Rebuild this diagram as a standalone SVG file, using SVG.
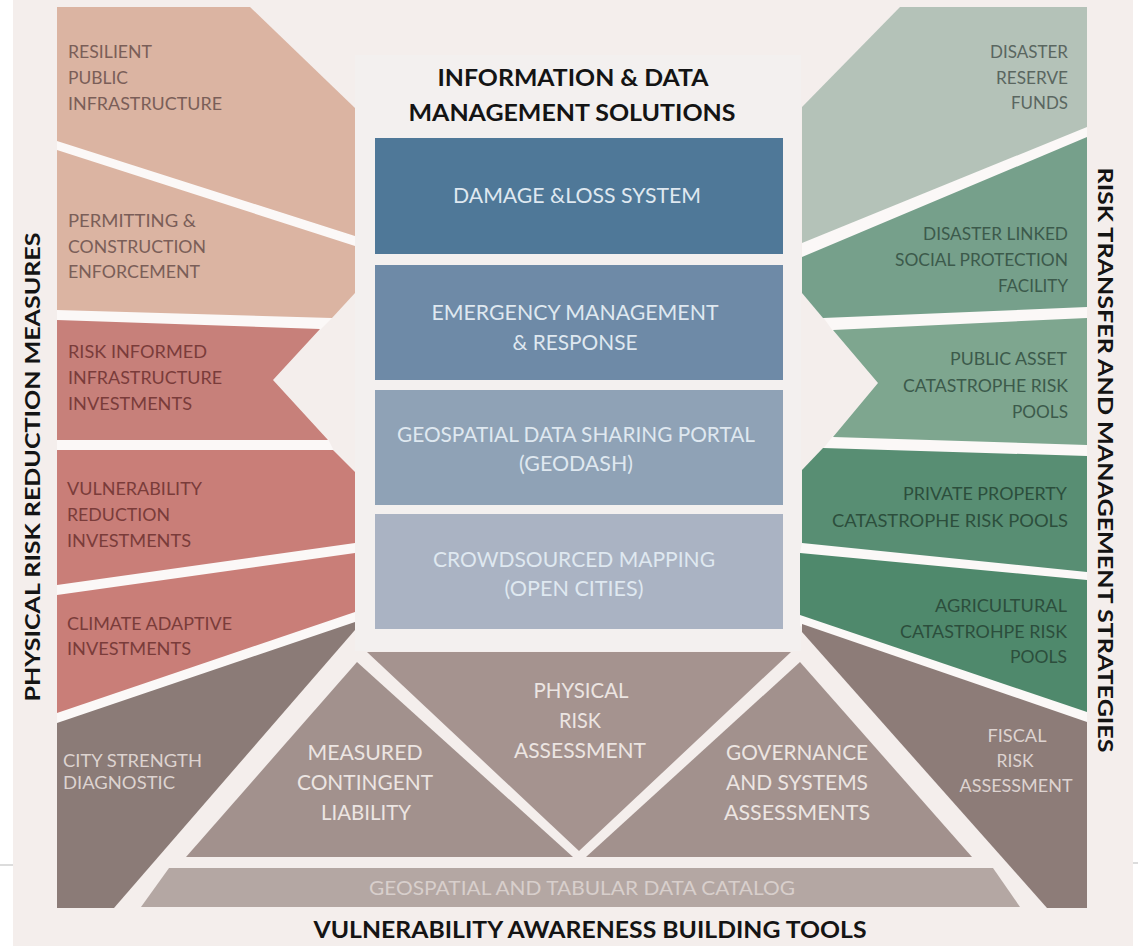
<svg xmlns="http://www.w3.org/2000/svg" width="1138" height="946" viewBox="0 0 1138 946">
<style>
text{font-family:Lato,"Open Sans","Liberation Sans",sans-serif}
.h{font-weight:700;font-size:23px;fill:#141414}
.v{font-weight:700;font-size:21px;fill:#141414}
.lp{font-size:18px}
.tan{fill:#7a5e58}
.red{fill:#7a3c3a}
.lt{fill:#ddd3d0}
.dr{fill:#5a6660}
.gr{fill:#3c5a4b}
.dg{fill:#2c4e3c}
.bx{font-size:21px;fill:#dfe8f0}
.tr{font-size:21px;fill:#ece5e2}
.gap{fill:#fbf8f7}
</style>
<rect width="1138" height="946" fill="#ffffff"/>
<rect x="13" y="0" width="1120" height="946" fill="#f4eeec"/>
<line x1="0" y1="865" x2="13" y2="865" stroke="#dcdcdc" stroke-width="2"/>
<line x1="1133" y1="863" x2="1138" y2="863" stroke="#dcdcdc" stroke-width="2"/>

<g id="center-panel">
<rect x="355" y="55" width="446" height="596" fill="#f3f0ef"/>
<text class="h" x="573" y="86" text-anchor="middle" textLength="271" lengthAdjust="spacingAndGlyphs">INFORMATION &amp; DATA</text>
<text class="h" x="572" y="121" text-anchor="middle" textLength="327" lengthAdjust="spacingAndGlyphs">MANAGEMENT SOLUTIONS</text>
</g>
<g id="damage-loss">
<rect x="375" y="138" width="408" height="116" fill="#4f7898"/>
<text class="bx" x="577" y="203" text-anchor="middle" textLength="248" lengthAdjust="spacingAndGlyphs">DAMAGE &amp;LOSS SYSTEM</text>
</g>
<g id="emergency">
<rect x="375" y="265" width="408" height="115" fill="#6e8aa7"/>
<text class="bx" x="575" y="320" text-anchor="middle" textLength="287" lengthAdjust="spacingAndGlyphs">EMERGENCY MANAGEMENT</text>
<text class="bx" x="575" y="350" text-anchor="middle" textLength="125" lengthAdjust="spacingAndGlyphs">&amp; RESPONSE</text>
</g>
<g id="geodash">
<rect x="375" y="390" width="408" height="115" fill="#8fa2b6"/>
<text class="bx" x="576" y="442" text-anchor="middle" textLength="358" lengthAdjust="spacingAndGlyphs">GEOSPATIAL DATA SHARING PORTAL</text>
<text class="bx" x="576" y="471" text-anchor="middle" textLength="114" lengthAdjust="spacingAndGlyphs">(GEODASH)</text>
</g>
<g id="crowdsourced">
<rect x="375" y="514" width="408" height="115" fill="#aab3c3"/>
<text class="bx" x="574" y="567" text-anchor="middle" textLength="282" lengthAdjust="spacingAndGlyphs">CROWDSOURCED MAPPING</text>
<text class="bx" x="574" y="596" text-anchor="middle" textLength="139" lengthAdjust="spacingAndGlyphs">(OPEN CITIES)</text>
</g>

<g id="separators">
<polygon class="gap" points="57,140 355,236 355,247 57,151"/>
<polygon class="gap" points="57,309 333,317 320,330 57,321"/>
<polygon class="gap" points="57,439 328,439 334,451 57,451"/>
<polygon class="gap" points="57,584 355,542 355,554 57,596"/>
<polygon class="gap" points="57,712 355,611 355,623 57,724"/>
<polygon class="gap" points="802,242 1087,126 1087,138 802,258"/>
<polygon class="gap" points="823,317 1087,306 1087,319 833,331"/>
<polygon class="gap" points="833,436 1087,444 1087,457 823,449"/>
<polygon class="gap" points="802,542 1087,571 1087,581 800,554"/>
<polygon class="gap" points="800,614 1087,711 1087,723 800,626"/>
</g>

<g id="resilient-public-infrastructure">
<polygon points="57,7 250,7 355,108 355,236 57,141" fill="#dbb4a2"/>
<text class="lp tan" x="68" y="58" textLength="84" lengthAdjust="spacingAndGlyphs">RESILIENT</text>
<text class="lp tan" x="68" y="84" textLength="60" lengthAdjust="spacingAndGlyphs">PUBLIC</text>
<text class="lp tan" x="68" y="110" textLength="154" lengthAdjust="spacingAndGlyphs">INFRASTRUCTURE</text>
</g>
<g id="permitting">
<polygon points="57,150 355,246 355,293 332,318 57,310" fill="#dbb4a2"/>
<text class="lp tan" x="68" y="227" textLength="128" lengthAdjust="spacingAndGlyphs">PERMITTING &amp;</text>
<text class="lp tan" x="68" y="253" textLength="138" lengthAdjust="spacingAndGlyphs">CONSTRUCTION</text>
<text class="lp tan" x="68" y="278" textLength="132" lengthAdjust="spacingAndGlyphs">ENFORCEMENT</text>
</g>
<g id="risk-informed">
<polygon points="57,320 320,329 273,380 328,440 57,440" fill="#c7807a"/>
<text class="lp red" x="68" y="358" textLength="139" lengthAdjust="spacingAndGlyphs">RISK INFORMED</text>
<text class="lp red" x="68" y="384" textLength="154" lengthAdjust="spacingAndGlyphs">INFRASTRUCTURE</text>
<text class="lp red" x="68" y="410" textLength="124" lengthAdjust="spacingAndGlyphs">INVESTMENTS</text>
</g>
<g id="vulnerability-reduction">
<polygon points="57,450 333,450 355,472 355,543 57,585" fill="#c97e78"/>
<text class="lp red" x="67" y="495" textLength="135" lengthAdjust="spacingAndGlyphs">VULNERABILITY</text>
<text class="lp red" x="67" y="521" textLength="103" lengthAdjust="spacingAndGlyphs">REDUCTION</text>
<text class="lp red" x="67" y="547" textLength="124" lengthAdjust="spacingAndGlyphs">INVESTMENTS</text>
</g>
<g id="climate-adaptive">
<polygon points="57,595 355,553 355,612 57,713" fill="#c97e78"/>
<text class="lp red" x="67" y="630" textLength="165" lengthAdjust="spacingAndGlyphs">CLIMATE ADAPTIVE</text>
<text class="lp red" x="67" y="655" textLength="124" lengthAdjust="spacingAndGlyphs">INVESTMENTS</text>
</g>
<g id="city-strength">
<polygon points="57,723 355,622 355,630 114,908 57,908" fill="#8b7b77"/>
<text class="lp lt" x="63" y="767" textLength="139" lengthAdjust="spacingAndGlyphs">CITY STRENGTH</text>
<text class="lp lt" x="63" y="789" textLength="112" lengthAdjust="spacingAndGlyphs">DIAGNOSTIC</text>
</g>

<g id="disaster-reserve-funds">
<polygon points="900,7 1087,7 1087,127 802,243 802,107" fill="#b4c2b8"/>
<text class="lp dr" x="1068" y="58" text-anchor="end" textLength="78" lengthAdjust="spacingAndGlyphs">DISASTER</text>
<text class="lp dr" x="1068" y="84" text-anchor="end" textLength="72" lengthAdjust="spacingAndGlyphs">RESERVE</text>
<text class="lp dr" x="1068" y="109" text-anchor="end" textLength="57" lengthAdjust="spacingAndGlyphs">FUNDS</text>
</g>
<g id="social-protection">
<polygon points="802,257 1087,137 1087,307 823,318 802,293" fill="#76a08b"/>
<text class="lp gr" x="1068" y="240" text-anchor="end" textLength="145" lengthAdjust="spacingAndGlyphs">DISASTER LINKED</text>
<text class="lp gr" x="1068" y="266" text-anchor="end" textLength="173" lengthAdjust="spacingAndGlyphs">SOCIAL PROTECTION</text>
<text class="lp gr" x="1068" y="292" text-anchor="end" textLength="70" lengthAdjust="spacingAndGlyphs">FACILITY</text>
</g>
<g id="public-asset-pools">
<polygon points="833,330 1087,318 1087,445 833,437 878,383" fill="#7ea68f"/>
<text class="lp gr" x="1067" y="365" text-anchor="end" textLength="117" lengthAdjust="spacingAndGlyphs">PUBLIC ASSET</text>
<text class="lp gr" x="1068" y="392" text-anchor="end" textLength="165" lengthAdjust="spacingAndGlyphs">CATASTROPHE RISK</text>
<text class="lp gr" x="1068" y="418" text-anchor="end" textLength="56" lengthAdjust="spacingAndGlyphs">POOLS</text>
</g>
<g id="private-property-pools">
<polygon points="823,448 1087,456 1087,572 802,543 802,470" fill="#588e73"/>
<text class="lp dg" x="1067" y="500" text-anchor="end" textLength="164" lengthAdjust="spacingAndGlyphs">PRIVATE PROPERTY</text>
<text class="lp dg" x="1068" y="527" text-anchor="end" textLength="236" lengthAdjust="spacingAndGlyphs">CATASTROPHE RISK POOLS</text>
</g>
<g id="agricultural-pools">
<polygon points="800,553 1087,580 1087,712 800,615" fill="#4f896c"/>
<text class="lp dg" x="1067" y="612" text-anchor="end" textLength="132" lengthAdjust="spacingAndGlyphs">AGRICULTURAL</text>
<text class="lp dg" x="1067" y="638" text-anchor="end" textLength="167" lengthAdjust="spacingAndGlyphs">CATASTROHPE RISK</text>
<text class="lp dg" x="1067" y="663" text-anchor="end" textLength="57" lengthAdjust="spacingAndGlyphs">POOLS</text>
</g>
<g id="fiscal-risk">
<polygon points="802,624 1087,722 1087,908 1047,908 802,632" fill="#8d7c78"/>
<text class="lp lt" x="1017" y="742" text-anchor="middle" textLength="59" lengthAdjust="spacingAndGlyphs">FISCAL</text>
<text class="lp lt" x="1015" y="767" text-anchor="middle" textLength="37" lengthAdjust="spacingAndGlyphs">RISK</text>
<text class="lp lt" x="1016" y="792" text-anchor="middle" textLength="113" lengthAdjust="spacingAndGlyphs">ASSESSMENT</text>
</g>

<g id="physical-risk-assessment">
<polygon points="367,652 791,652 579,851" fill="#a5938f"/>
<text class="tr" x="581" y="698" text-anchor="middle" textLength="95" lengthAdjust="spacingAndGlyphs">PHYSICAL</text>
<text class="tr" x="580" y="728" text-anchor="middle" textLength="42" lengthAdjust="spacingAndGlyphs">RISK</text>
<text class="tr" x="580" y="758" text-anchor="middle" textLength="132" lengthAdjust="spacingAndGlyphs">ASSESSMENT</text>
</g>
<g id="measured-contingent-liability">
<polygon points="357,662 573,857 186,857" fill="#a2918d"/>
<text class="tr" x="365" y="760" text-anchor="middle" textLength="115" lengthAdjust="spacingAndGlyphs">MEASURED</text>
<text class="tr" x="365" y="790" text-anchor="middle" textLength="136" lengthAdjust="spacingAndGlyphs">CONTINGENT</text>
<text class="tr" x="366" y="820" text-anchor="middle" textLength="90" lengthAdjust="spacingAndGlyphs">LIABILITY</text>
</g>
<g id="governance-assessments">
<polygon points="800,662 972,857 586,857" fill="#a2918d"/>
<text class="tr" x="797" y="760" text-anchor="middle" textLength="142" lengthAdjust="spacingAndGlyphs">GOVERNANCE</text>
<text class="tr" x="797" y="790" text-anchor="middle" textLength="142" lengthAdjust="spacingAndGlyphs">AND SYSTEMS</text>
<text class="tr" x="797" y="820" text-anchor="middle" textLength="146" lengthAdjust="spacingAndGlyphs">ASSESSMENTS</text>
</g>
<g id="data-catalog">
<polygon points="169,868 993,868 1020,907 141,907" fill="#b4a7a3"/>
<text x="582" y="895" text-anchor="middle" font-size="20" fill="#d8cfcc" textLength="426" lengthAdjust="spacingAndGlyphs">GEOSPATIAL AND TABULAR DATA CATALOG</text>
</g>

<g id="labels">
<text class="v" transform="translate(40,467) rotate(-90)" text-anchor="middle" textLength="469" lengthAdjust="spacingAndGlyphs">PHYSICAL RISK REDUCTION MEASURES</text>
<text class="v" transform="translate(1098,460) rotate(90)" text-anchor="middle" textLength="585" lengthAdjust="spacingAndGlyphs">RISK TRANSFER AND MANAGEMENT STRATEGIES</text>
<text class="h" x="590" y="938" text-anchor="middle" textLength="553" lengthAdjust="spacingAndGlyphs">VULNERABILITY AWARENESS BUILDING TOOLS</text>
</g>
</svg>
